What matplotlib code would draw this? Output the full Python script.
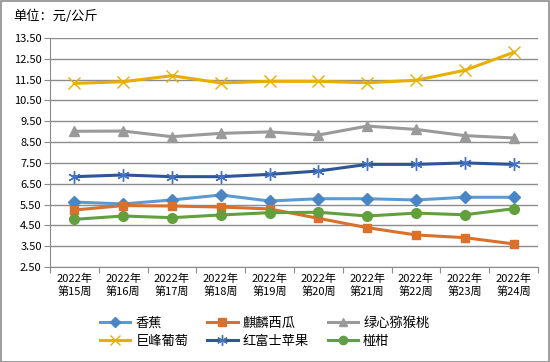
import numpy as np
import matplotlib
matplotlib.use('Agg')
import matplotlib.pyplot as plt

plt.rcParams['font.family'] = ['Noto Sans CJK SC', 'DejaVu Sans']

# 周次
weeks = ['2022年\n第%d周' % w for w in range(15, 25)]

# 各品种价格（元/公斤）
banana     = [5.62, 5.53, 5.72, 5.96, 5.67, 5.78, 5.78, 5.72, 5.85, 5.85]
watermelon = [5.24, 5.45, 5.43, 5.38, 5.29, 4.84, 4.39, 4.04, 3.91, 3.61]
kiwi       = [9.02, 9.03, 8.76, 8.92, 8.99, 8.84, 9.27, 9.11, 8.81, 8.70]
grape      = [11.32, 11.40, 11.69, 11.34, 11.42, 11.42, 11.35, 11.47, 11.95, 12.81]
apple      = [6.84, 6.92, 6.84, 6.84, 6.95, 7.11, 7.43, 7.43, 7.50, 7.43]
tangerine  = [4.79, 4.95, 4.87, 5.00, 5.11, 5.13, 4.95, 5.09, 5.01, 5.30]

names = ['香蕉', '麒麟西瓜', '绿心猕猴桃', '巨峰葡萄', '红富士苹果', '椪柑']
series = [banana, watermelon, kiwi, grape, apple, tangerine]
colors = ['#5B9BD5', '#D9702B', '#9A9A9A', '#E8AE00', '#2F5597', '#62A03E']
mcolors = ['#4A86C5', '#D9702B', '#9A9A9A', '#E8AE00', '#4472C4', '#62A03E']
markers = ['D', 's', '^', 'x', (6, 2, 0), 'o']
msizes = [6, 6, 7, 8, 9, 7]

fig = plt.figure(figsize=(5.5, 3.62), dpi=100)
ax = fig.add_axes([0.0909, 0.2624, 0.8873, 0.6326])

x = np.arange(len(weeks))
handles = []
for vals, name, c, mc, mk, ms in zip(series, names, colors, mcolors, markers, msizes):
    h, = ax.plot(x, vals, color=c, lw=2.2, marker=mk, ms=ms, mfc=mc, mec=mc,
                 mew=1.0, label=name, zorder=3)
    handles.append(h)

ax.set_xlim(-0.5, len(weeks) - 0.5)
ax.set_ylim(2.5, 13.5)
yt = np.arange(2.5, 13.51, 1.0)
ax.set_yticks(yt)
ax.set_yticklabels(['%.2f' % v for v in yt], fontsize=8)
ax.yaxis.grid(True, color='#8C8C8C', lw=1)
ax.set_axisbelow(True)

ax.set_xticks(np.arange(-0.5, len(weeks), 1.0))
ax.set_xticklabels([])
ax.set_xticks(x, minor=True)
ax.set_xticklabels(weeks, minor=True, fontsize=8, linespacing=1.25)
ax.tick_params(axis='x', which='minor', length=0, pad=5)
ax.tick_params(axis='x', which='major', length=4, color='#8C8C8C')
ax.tick_params(axis='y', length=4, color='#8C8C8C', pad=2)

for s in ['top', 'right']:
    ax.spines[s].set_visible(False)
for s in ['left', 'bottom']:
    ax.spines[s].set_color('#8C8C8C')

fig.text(0.024, 0.955, '单位：元/公斤', fontsize=9.5, va='center', ha='left')

# 图例按行排列
order = [0, 3, 1, 4, 2, 5]
ax.legend([handles[i] for i in order], [names[i] for i in order],
          loc='upper center', bbox_to_anchor=(0.44, -0.165), ncol=3,
          frameon=False, fontsize=9.5, handlelength=2.3, columnspacing=1.4,
          handletextpad=0.4, labelspacing=0.4, markerscale=0.85)

fig.patches.append(plt.Rectangle((0.001, 0.001), 0.997, 0.996, fill=False,
                                 edgecolor='#8C8C8C', lw=1.2,
                                 transform=fig.transFigure))

fig.savefig('out.png', dpi=100)
